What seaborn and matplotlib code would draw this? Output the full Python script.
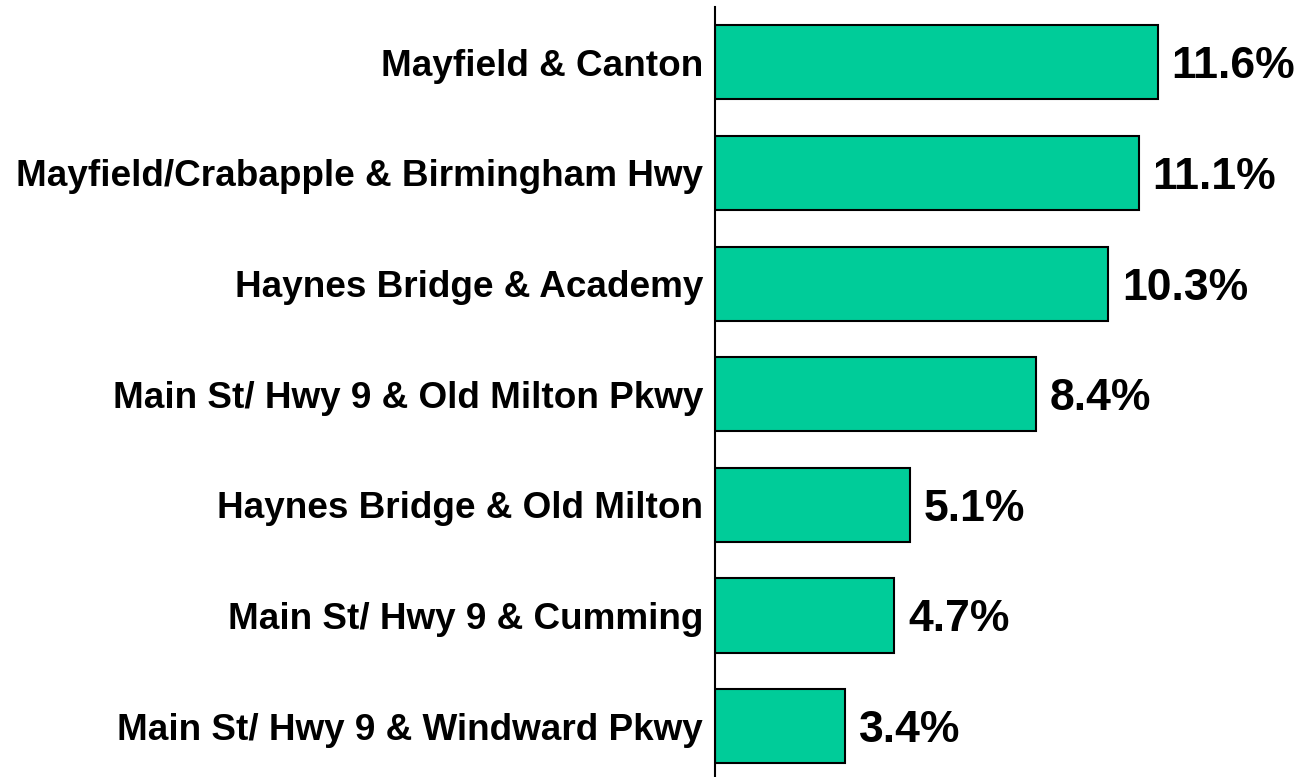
import matplotlib
matplotlib.use("Agg")
import matplotlib.pyplot as plt
import seaborn as sns
import pandas as pd

intersections = [
    "Mayfield & Canton",
    "Mayfield/Crabapple & Birmingham Hwy",
    "Haynes Bridge & Academy",
    "Main St/ Hwy 9 & Old Milton Pkwy",
    "Haynes Bridge & Old Milton",
    "Main St/ Hwy 9 & Cumming",
    "Main St/ Hwy 9 & Windward Pkwy",
]
shares = [11.6, 11.1, 10.3, 8.4, 5.1, 4.7, 3.4]

df = pd.DataFrame({"intersection": intersections, "share": shares})

sns.set_style("white")
plt.rcParams["font.family"] = ["Liberation Sans", "DejaVu Sans"]

fig = plt.figure(figsize=(13.03, 7.77), dpi=100)
ax = fig.add_axes([715 / 1303, 0.0, 1 - 715 / 1303, 1 - 7 / 777])

sns.barplot(data=df, x="share", y="intersection", orient="h", ax=ax,
            color="#00CC99", saturation=1, width=0.67,
            edgecolor="black", linewidth=1.5)

for c in ax.containers:
    texts = ax.bar_label(c, labels=[f"{v:.1f}%" for v in shares], padding=10,
                         fontsize=32, fontweight="bold", color="black")
    for t in texts:
        t.set_va("center_baseline")

ax.set_xlim(0, 15.41)
ax.set_ylim(6.46, -0.5)
ax.set_xlabel("")
ax.set_ylabel("")
ax.set_xticks([])
ax.tick_params(axis="y", length=0, pad=8.5, labelcolor="black")
for lbl in ax.get_yticklabels():
    lbl.set_fontsize(26.6)
    lbl.set_fontweight("bold")
for s in ["top", "right", "bottom"]:
    ax.spines[s].set_visible(False)
ax.spines["left"].set_color("black")
ax.spines["left"].set_linewidth(1.5)

fig.savefig("out.png", dpi=100, facecolor="white")
